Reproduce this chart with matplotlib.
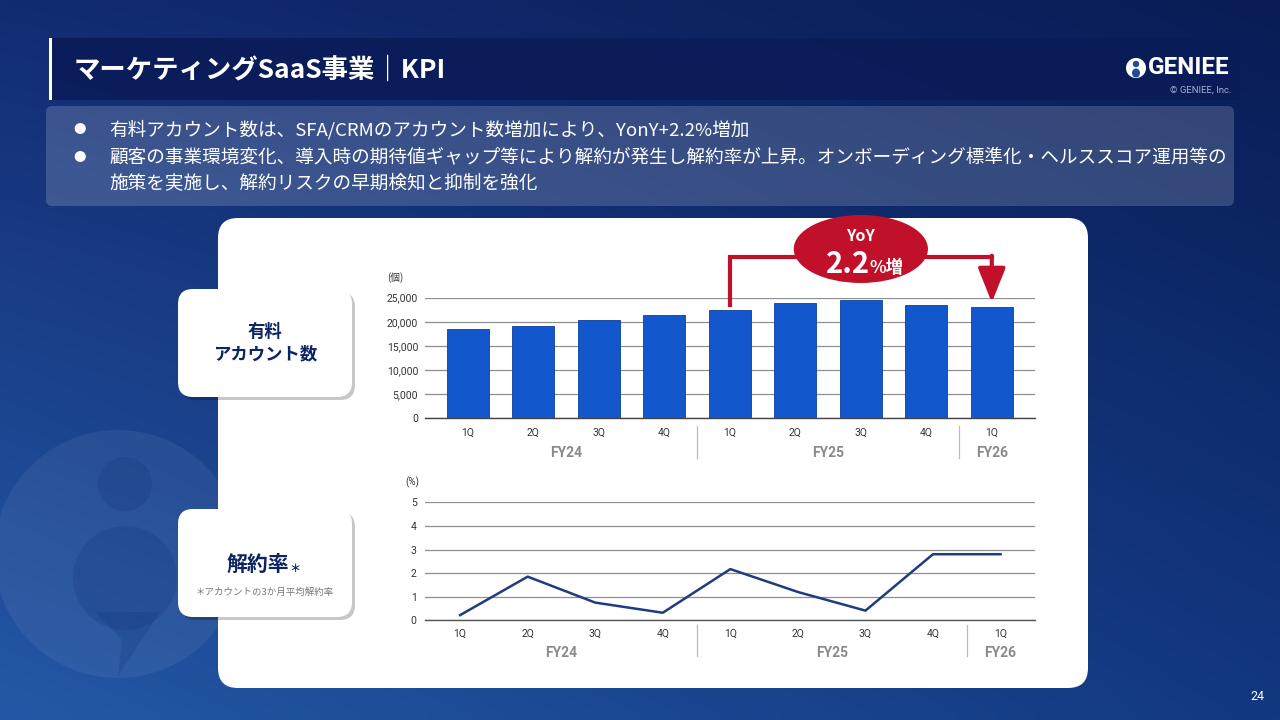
import matplotlib
matplotlib.use("Agg")
import matplotlib.pyplot as plt
import numpy as np
from matplotlib.patches import FancyBboxPatch, Rectangle, Ellipse, Circle, Polygon
from matplotlib import transforms

# ---------------- data ----------------
quarters = ["1Q", "2Q", "3Q", "4Q", "1Q", "2Q", "3Q", "4Q", "1Q"]
fiscal_years = ["FY24", "FY25", "FY26"]
fy_groups = [[0, 1, 2, 3], [4, 5, 6, 7], [8]]
paid_accounts = [18600, 19200, 20300, 21500, 22500, 24000, 24600, 23500, 23000]
churn_rate = [0.22, 1.85, 0.75, 0.32, 2.17, 1.2, 0.41, 2.8, 2.8]
bar_yticks = [0, 5000, 10000, 15000, 20000, 25000]
line_yticks = [0, 1, 2, 3, 4, 5]
yoy_text_top = "YoY"
yoy_value = "2.2"
yoy_suffix = "%増"
title = "マーケティングSaaS事業｜KPI"
bullets = [
    "有料アカウント数は、SFA/CRMのアカウント数増加により、YonY+2.2%増加",
    "顧客の事業環境変化、導入時の期待値ギャップ等により解約が発生し解約率が上昇。オンボーディング標準化・ヘルススコア運用等の",
    "施策を実施し、解約リスクの早期検知と抑制を強化",
]

JP = ["Noto Sans CJK JP", "DejaVu Sans"]
plt.rcParams["font.family"] = JP

W, H = 1280, 720
fig = plt.figure(figsize=(12.8, 7.2), dpi=100)

def fr(x0, y0, x1, y1):
    """pixel box (top-left origin) -> figure fraction rect"""
    return [x0 / W, 1 - y1 / H, (x1 - x0) / W, (y1 - y0) / H]

# ---------------- background ----------------
bg = fig.add_axes([0, 0, 1, 1], zorder=0)
bg.set_xlim(0, W)
bg.set_ylim(H, 0)
bg.axis("off")

tl = np.array([0x12, 0x2c, 0x72]) / 255
tr = np.array([0x09, 0x1c, 0x55]) / 255
bl = np.array([0x24, 0x58, 0xa6]) / 255
br = np.array([0x12, 0x38, 0x80]) / 255
gx = np.linspace(0, 1, 128)[None, :, None]
gy = np.linspace(0, 1, 72)[:, None, None]
grad = (1 - gy) * ((1 - gx) * tl + gx * tr) + gy * ((1 - gx) * bl + gx * br)
bg.imshow(grad, extent=[0, W, H, 0], aspect="auto", interpolation="bilinear", zorder=0)

# faint big logo bottom-left
bg.add_patch(Circle((118, 554), 124, facecolor="white", alpha=0.06, lw=0, zorder=1))
bg.add_patch(Circle((125, 484), 27, facecolor="#0b2a6e", alpha=0.18, lw=0, zorder=1))
bg.add_patch(Circle((125, 578), 52, facecolor="#0b2a6e", alpha=0.18, lw=0, zorder=1))
bg.add_patch(Polygon([[95, 612], [160, 612], [118, 676], [122, 640]], closed=True,
                     facecolor="#0b2a6e", alpha=0.18, lw=0, zorder=1))

# title bar
bg.add_patch(Rectangle((50, 38), 1190, 62, facecolor="#0a1c58", alpha=0.9, lw=0, zorder=2))
bg.add_patch(Rectangle((49, 38), 3, 62, facecolor="white", lw=0, zorder=3))
bg.text(74, 70, title, color="white", fontsize=19, fontweight="bold",
        va="center", ha="left", zorder=4)

# logo
bg.add_patch(Circle((1136, 68), 10, facecolor="white", lw=0, zorder=4))
bg.add_patch(Circle((1136, 64), 3.2, facecolor="#1e4c9a", lw=0, zorder=5))
bg.add_patch(Ellipse((1136, 73), 8, 9, facecolor="#1e4c9a", lw=0, zorder=5))
bg.text(1148, 68, "GENIEE", color="white", fontsize=17.5, fontweight="bold",
        family=["Roboto", "DejaVu Sans"], va="center", ha="left", zorder=4)
bg.text(1231, 90, "© GENIEE, Inc.", color="#9fb0d6", fontsize=6.8,
        family=["Roboto", "DejaVu Sans"], va="center", ha="right", zorder=4)

# bullet box
bg.add_patch(FancyBboxPatch((46, 106), 1188, 100, boxstyle="round,pad=0,rounding_size=6",
                            facecolor="white", alpha=0.17, lw=0, zorder=2))
bullet_rows = [(130, True), (157, True), (183, False)]
for (yy, has_bullet), txt in zip(bullet_rows, bullets):
    if has_bullet:
        bg.text(80, yy, "●", color="white", fontsize=9, va="center", ha="center", zorder=4)
    bg.text(109, yy, txt, color="white", fontsize=13.4, va="center", ha="left", zorder=4)

# white card
bg.add_patch(FancyBboxPatch((218, 218), 870, 470, boxstyle="round,pad=0,rounding_size=20",
                            facecolor="white", lw=0, zorder=2))

# label boxes
for (y0, y1) in [(289, 397), (509, 617)]:
    bg.add_patch(FancyBboxPatch((181, y0 + 3), 174, y1 - y0,
                                boxstyle="round,pad=0,rounding_size=15",
                                facecolor="#000000", alpha=0.22, lw=0, zorder=3))
    bg.add_patch(FancyBboxPatch((178, y0), 174, y1 - y0,
                                boxstyle="round,pad=0,rounding_size=15",
                                facecolor="white", lw=0, zorder=4))
navy = "#0d2463"
bg.text(265, 343, "有料\nアカウント数", color=navy, fontsize=12.5, fontweight="bold",
        va="center", ha="center", linespacing=1.35, zorder=5)
bg.text(258, 564, "解約率", color=navy, fontsize=15, fontweight="bold",
        va="center", ha="center", zorder=5)
bg.text(295, 569, "＊", color=navy, fontsize=8, fontweight="bold",
        va="center", ha="center", zorder=5)
bg.text(265, 592, "＊アカウントの3か月平均解約率", color="#777777", fontsize=6.8,
        va="center", ha="center", zorder=5)

# page number
bg.text(1257, 697, "24", color="white", fontsize=9, family=["Roboto", "DejaVu Sans"],
        va="center", ha="center", zorder=4)

# ---------------- bar chart ----------------
bar_color = "#1257cc"
grid_c = "#8f8f8f"
tick_font = ["Roboto", "DejaVu Sans"]
x = np.arange(len(quarters))

axb = fig.add_axes(fr(425, 297.7, 1035, 418.3), zorder=5)
axb.set_facecolor("none")
axb.bar(x, paid_accounts, width=0.64, color=bar_color, edgecolor="#0d3f9c", lw=0.6, zorder=3)
axb.set_ylim(0, 25000)
axb.set_xlim(-0.656, 8.66)
axb.set_yticks(bar_yticks)
axb.set_yticklabels([f"{v:,}" for v in bar_yticks], fontsize=7.5, color="#333333",
                    family=tick_font)
axb.set_xticks(x)
axb.set_xticklabels(quarters, fontsize=7.5, color="#333333", family=tick_font)
axb.tick_params(length=0, axis="y", pad=5)
axb.tick_params(length=0, axis="x", pad=7)
axb.grid(axis="y", color=grid_c, lw=0.9, zorder=0)
for s in ["top", "right", "left"]:
    axb.spines[s].set_visible(False)
axb.spines["bottom"].set_color("#444444")
axb.spines["bottom"].set_linewidth(1.0)
axb.text(-0.035, 1.17, "(個)", transform=axb.transAxes, fontsize=7, color="#333333",
         ha="right", va="center")

tb = transforms.blended_transform_factory(axb.transData, axb.transAxes)
for name, grp in zip(fiscal_years, fy_groups):
    axb.text(np.mean(grp), -0.29, name, transform=tb, ha="center", va="center",
             fontsize=10, fontweight="bold", color="#8a8a8a", family=tick_font)
for grp in fy_groups[:-1]:
    sx = grp[-1] + 0.5
    axb.plot([sx, sx], [-0.06, -0.33], transform=tb, color="#bbbbbb", lw=0.9, clip_on=False)

# YoY annotation
red = "#c0102a"
i0, i1 = 4, 8
top = 33400
axb.plot([i0, i0, i1], [paid_accounts[i0] + 900, top, top], color=red, lw=3,
         solid_joinstyle="miter", clip_on=False, zorder=6)
axb.annotate("", xy=(i1, paid_accounts[i1] + 1000), xytext=(i1, top + 300),
             arrowprops=dict(arrowstyle="-|>,head_width=0.42,head_length=1.05",
                             color=red, lw=3, shrinkA=0, shrinkB=0, mutation_scale=20),
             annotation_clip=False, zorder=6)
cx = (i0 + i1) / 2
axb.add_patch(Ellipse((cx, 35100), 2.05, 14100, facecolor=red, edgecolor="none",
                      clip_on=False, zorder=7))
axb.text(cx, 37800, yoy_text_top, color="white", fontsize=11.5, fontweight="bold",
         ha="center", va="center", zorder=8)
axb.text(cx + 0.14, 30200, yoy_value, color="white", fontsize=21, fontweight="bold",
         ha="right", va="baseline", zorder=8)
axb.text(cx + 0.14, 30200, yoy_suffix, color="white", fontsize=12.5, fontweight="bold",
         ha="left", va="baseline", zorder=8)

# ---------------- line chart ----------------
axl = fig.add_axes(fr(425, 502.3, 1035, 620.3), zorder=5)
axl.set_facecolor("none")
axl.plot(x, churn_rate, color="#1f3c7e", lw=1.8, zorder=3)
axl.set_ylim(0, 5)
axl.set_xlim(-0.52, 8.51)
axl.set_yticks(line_yticks)
axl.set_yticklabels([str(v) for v in line_yticks], fontsize=7.5, color="#333333",
                    family=tick_font)
axl.set_xticks(x)
axl.set_xticklabels(quarters, fontsize=7.5, color="#333333", family=tick_font)
axl.tick_params(length=0, axis="y", pad=6)
axl.tick_params(length=0, axis="x", pad=6)
axl.grid(axis="y", color=grid_c, lw=0.9, zorder=0)
for s in ["top", "right", "left"]:
    axl.spines[s].set_visible(False)
axl.spines["bottom"].set_color("#555555")
axl.spines["bottom"].set_linewidth(1.0)
axl.text(-0.01, 1.17, "(%)", transform=axl.transAxes, fontsize=7, color="#333333",
         ha="right", va="center", family=tick_font)

tl_ = transforms.blended_transform_factory(axl.transData, axl.transAxes)
for name, grp in zip(fiscal_years, fy_groups):
    axl.text(np.mean(grp), -0.28, name, transform=tl_, ha="center", va="center",
             fontsize=10, fontweight="bold", color="#8a8a8a", family=tick_font)
for grp in fy_groups[:-1]:
    sx = grp[-1] + 0.5
    axl.plot([sx, sx], [-0.04, -0.30], transform=tl_, color="#bbbbbb", lw=0.9, clip_on=False)

fig.savefig("out.png", dpi=100)
